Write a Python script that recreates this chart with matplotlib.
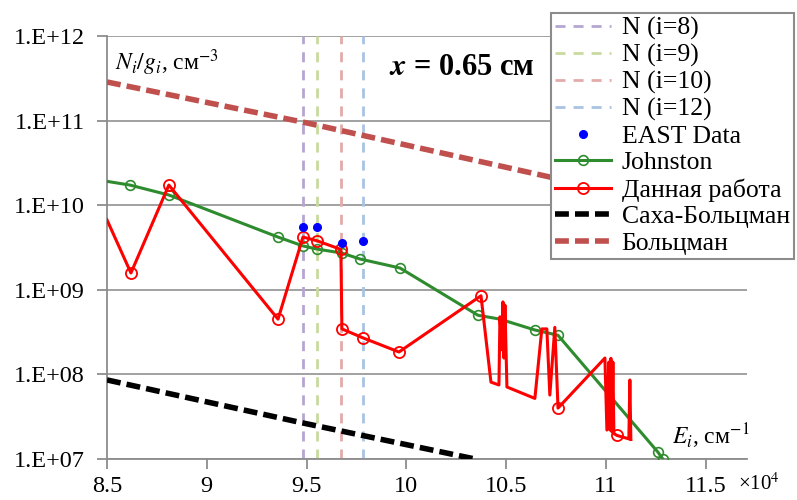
import matplotlib
matplotlib.use("Agg")
import matplotlib.pyplot as plt
from matplotlib.ticker import FixedLocator, FuncFormatter, NullLocator
import numpy as np

plt.rcParams['font.family'] = ['Liberation Serif', 'DejaVu Serif']
plt.rcParams['mathtext.fontset'] = 'stix'

# ---- data (energy in units of 1e4 cm^-1) ----
level_E = [9.482, 9.552, 9.675, 9.783]
level_labels = ["N (i=8)", "N (i=9)", "N (i=10)", "N (i=12)"]
level_colors = ["#b5a6d0", "#c9da9e", "#e3aaaa", "#a9c3e3"]

east_E = [9.482, 9.552, 9.677, 9.783]
east_N = [5.57e9, 5.57e9, 3.55e9, 3.74e9]

johnston_E = [8.45, 8.615, 8.81, 9.357, 9.482, 9.552, 9.677, 9.768, 9.968,
              10.359, 10.469, 10.644, 10.76, 11.26, 11.285]
johnston_N = [2.0e10, 1.73e10, 1.32e10, 4.2e9, 3.3e9, 3.03e9, 2.72e9, 2.31e9, 1.81e9,
              5.0e8, 4.5e8, 3.35e8, 2.9e8, 1.21e7, 1.0e7]

work_E = [8.5, 8.62, 8.81, 9.357, 9.482, 9.552, 9.672, 9.677, 9.783, 9.963,
          10.374, 10.424, 10.464, 10.469, 10.479, 10.484, 10.489, 10.494, 10.504,
          10.644, 10.679, 10.704, 10.719, 10.744, 10.76,
          10.995, 11.005, 11.015, 11.02, 11.025, 11.03, 11.035, 11.04, 11.055,
          11.115, 11.12, 11.125]
work_N = [6.7e9, 1.58e9, 1.73e10, 4.5e8, 4.2e9, 3.8e9, 3.0e9, 3.45e8, 2.7e8, 1.84e8,
          8.5e8, 8.1e7, 7.5e7, 4.8e8, 1.95e8, 7.2e8, 1.56e8, 6.6e8, 7.1e7,
          5.2e7, 3.45e8, 3.45e8, 5.7e7, 3.6e8, 4.0e7,
          1.56e8, 2.2e7, 1.4e8, 2.2e7, 1.55e8, 2.1e7, 1.4e8, 2.0e7, 1.9e7,
          1.73e7, 8.6e7, 1.7e7]
work_marked = [1, 2, 3, 4, 5, 6, 7, 8, 9, 10, 24, 33]

saha_E = [8.5, 9.48, 10.344]
saha_N = [8.6e7, 2.67e7, 1.0e7]

boltz_E = [8.5, 9.5, 10.72, 11.3]
boltz_N = [2.86e11, 9.4e10, 2.15e10, 1.15e10]

x_ticks = [8.5, 9, 9.5, 10, 10.5, 11, 11.5]
y_ticks = [1e7, 1e8, 1e9, 1e10, 1e11, 1e12]

# ---- figure ----
fig = plt.figure(figsize=(7.97, 5.00), dpi=100)
ax = fig.add_axes([107/797, 1-459/500, 640/797, 423/500])
ax.set_yscale('log')
ax.set_xlim(8.5, 11.707)
ax.set_ylim(1e7, 1e12)

gray = "#8c8c8c"
for E, c, lab in zip(level_E, level_colors, level_labels):
    ax.axvline(E, color=c, lw=2, dashes=(3.6, 2.9), label=lab, zorder=2)

ax.plot(east_E, east_N, 'o', color='#0000ff', ms=5.5, ls='none', label='EAST Data', zorder=5)

ax.plot(johnston_E, johnston_N, color='#2e8b2e', lw=2.2, marker='o', ms=7,
        mfc='none', mec='#2e8b2e', mew=1.2,
        markevery=[i for i in range(len(johnston_E)) if i not in (0, 10)],
        label='Johnston', zorder=3)

ax.plot(work_E, work_N, color='#ff0000', lw=2.2, marker='o', ms=8,
        mfc='none', mec='#ff0000', mew=1.3, markevery=work_marked,
        label='Данная работа', zorder=4)

ax.plot(saha_E, saha_N, color='black', lw=4, dashes=(2.5, 1.1), label='Саха-Больцман', zorder=3)
ax.plot(boltz_E, boltz_N, color='#c0504d', lw=4, dashes=(2.5, 1.1), label='Больцман', zorder=3)

# axes styling
ax.xaxis.set_major_locator(FixedLocator(x_ticks))
ax.xaxis.set_minor_locator(NullLocator())
ax.yaxis.set_major_locator(FixedLocator(y_ticks))
ax.yaxis.set_minor_locator(NullLocator())
ax.xaxis.set_major_formatter(FuncFormatter(lambda v, p: f"{v:g}"))
ax.yaxis.set_major_formatter(FuncFormatter(lambda v, p: f"1.E+{int(round(np.log10(v))):02d}"))
ax.tick_params(axis='both', direction='out', length=7, width=1.3, color=gray,
               labelsize=17.5, labelcolor='black')
ax.tick_params(axis='y', pad=9)
ax.tick_params(axis='x', pad=5)
for s in ['top', 'right']:
    ax.spines[s].set_visible(False)
for s in ['left', 'bottom']:
    ax.spines[s].set_color(gray)
    ax.spines[s].set_linewidth(1.3)
ax.grid(axis='y', color='#9a9a9a', lw=1.3)
ax.set_axisbelow(True)

# annotations
ax.text(0.012, (459-70)/423, r"$N_i/g_i$, см$^{-3}$", transform=ax.transAxes,
        fontsize=17, ha='left', va='baseline')
fig.text(389/797, 1-75/500, r"$\boldsymbol{x}$ = 0.65 см", fontsize=22,
         fontweight='bold', ha='left', va='baseline')
fig.text(672/797, 1-444/500, r"$E_i$, см$^{-1}$", fontsize=17, ha='left', va='baseline')
fig.text(738/797, 1-490/500, r"×10$^{4}$", fontsize=15, ha='left', va='baseline')

leg = fig.legend(loc='upper left', bbox_to_anchor=(551/797, 1-13/500), borderaxespad=0,
                 fontsize=18.5, labelspacing=0.14, handlelength=2.2, handletextpad=0.4,
                 borderpad=0.15, frameon=True, fancybox=False, framealpha=1.0)
leg.get_frame().set_edgecolor(gray)
leg.get_frame().set_linewidth(1.5)
leg.set_zorder(10)

fig.savefig("out.png", dpi=100)
